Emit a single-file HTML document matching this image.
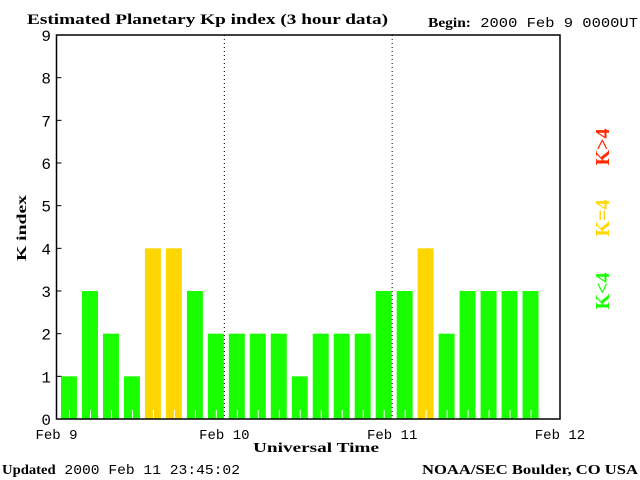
<!DOCTYPE html>
<html><head><meta charset="utf-8"><style>
body{margin:0;background:#fff;}
svg{display:block;}
text{font-family:"Liberation Mono","DejaVu Sans Mono",monospace;fill:#000;}
.serif{font-family:"Liberation Serif","DejaVu Serif",serif;font-weight:bold;}
</style></head><body>
<svg id="chart" width="640" height="480" viewBox="0 0 640 480" xmlns="http://www.w3.org/2000/svg">
<text class="serif" x="27" y="24" font-size="15" textLength="361" lengthAdjust="spacingAndGlyphs">Estimated Planetary Kp index (3 hour data)</text>
<text x="428" y="27" font-size="14" textLength="210" lengthAdjust="spacingAndGlyphs"><tspan class="serif">Begin:</tspan> 2000 Feb 9 0000UT</text>
<text class="serif" transform="translate(26,228) rotate(-90)" text-anchor="middle" font-size="14" textLength="66" lengthAdjust="spacingAndGlyphs">K index</text>
<text class="serif" x="253" y="452" font-size="14" textLength="126" lengthAdjust="spacingAndGlyphs">Universal Time</text>
<text x="2" y="474" font-size="14" textLength="238" lengthAdjust="spacingAndGlyphs"><tspan class="serif">Updated</tspan> 2000 Feb 11 23:45:02</text>
<text class="serif" x="422" y="474" font-size="14" textLength="216" lengthAdjust="spacingAndGlyphs">NOAA/SEC Boulder, CO USA</text>
<g id="bars"></g>
<g id="axes"></g>
<text class="serif" transform="translate(609,147) rotate(-90)" text-anchor="middle" font-size="20" style="fill:#ff2a00">K&gt;4</text>
<text class="serif" transform="translate(609,218) rotate(-90)" text-anchor="middle" font-size="20" style="fill:#ffd700">K=4</text>
<text class="serif" transform="translate(609,291) rotate(-90)" text-anchor="middle" font-size="20" style="fill:#19ff00">K&lt;4</text>
</svg>
<script>
const kpValues = [1,3,2,1,4,4,3,2, 2,2,2,1,2,2,2,3, 3,4,2,3,3,3,3];
const yTicks = [0,1,2,3,4,5,6,7,8,9];
const dayLabels = ["Feb 9","Feb 10","Feb 11","Feb 12"];
const slotsPerDay = 8;

const NS="http://www.w3.org/2000/svg";
const X0=56.5,X1=560,Y0=419,Y1=35;
const slotW=(X1-X0)/(slotsPerDay*(dayLabels.length-1));
const xs=i=>X0+i*slotW;
const ys=v=>Y0-(v/9)*(Y0-Y1);
function mk(tag,attrs,parent){const e=document.createElementNS(NS,tag);for(const k in attrs)e.setAttribute(k,attrs[k]);parent.appendChild(e);return e;}
const bars=document.getElementById('bars'), axes=document.getElementById('axes');
kpValues.forEach((v,i)=>{
  const col=v>4?'#ff2a00':(v==4?'#ffd700':'#19ff00');
  const r=mk('rect',{x:xs(i)+4.5,y:ys(v),width:slotW-5,height:Y0-ys(v),fill:col},bars);
  
  
  const t=mk('line',{x1:xs(i)+13,x2:xs(i)+13,y1:Y0-1,y2:Y0-9,stroke:'#fff','stroke-width':1},bars);
  
  
});
const frame=mk('rect',{x:X0,y:Y1,width:X1-X0,height:Y0-Y1,fill:'none',stroke:'#000','stroke-width':1.5},axes);


yTicks.forEach(v=>{
  const l=mk('line',{x1:X0,x2:X0+5,y1:ys(v),y2:ys(v),stroke:'#000'},axes);
  
  
  const t=mk('text',{x:51,y:ys(v)+6,'text-anchor':'end','font-size':16},axes);
  t.textContent=v;
  
  
});
dayLabels.forEach((d,i)=>{
  const x=xs(i*slotsPerDay);
  if(i>0&&i<dayLabels.length-1){
    const l=mk('line',{x1:x,x2:x,y1:Y1,y2:Y0,stroke:'#000','stroke-dasharray':'1,3'},axes);
    
    
  }
  const t=mk('text',{x:x,y:439,'text-anchor':'middle','font-size':14},axes);
  t.textContent=d;
  
  
});
</script>
</body></html>
